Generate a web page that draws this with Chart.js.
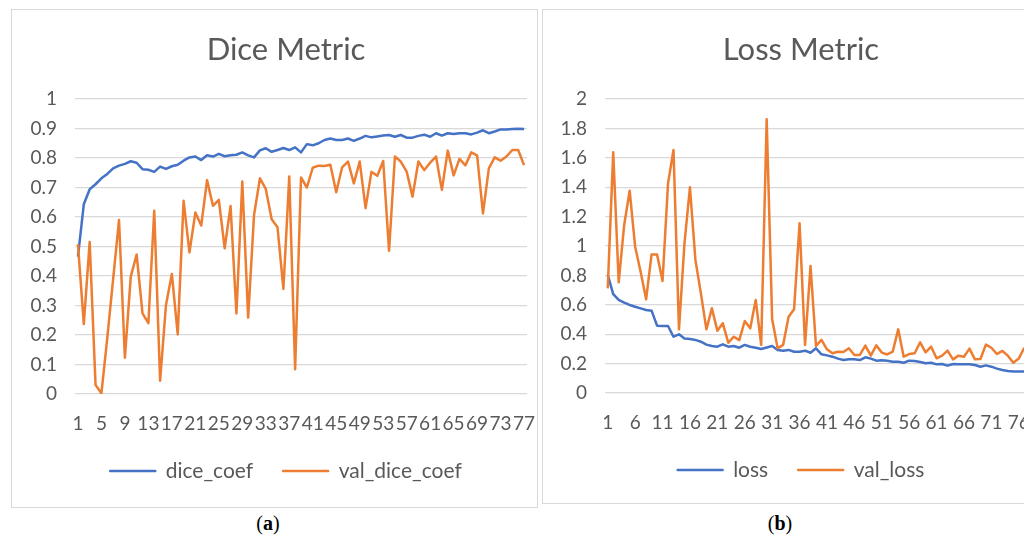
<!DOCTYPE html>
<html lang="en">
<head>
    <meta charset="UTF-8">
    <title>Dice Metric / Loss Metric</title>
    <script src="https://cdn.jsdelivr.net/npm/chart.js"></script>
    <style>
        html, body {
            margin: 0;
            padding: 0;
            background: #ffffff;
        }
        body {
            width: 1024px;
            height: 539px;
            overflow: hidden;
            position: relative;
            font-family: Lato, sans-serif;
        }
        .box {
            position: absolute;
            border: 1px solid #d9d9d9;
            box-sizing: border-box;
        }
        #boxA { left: 11px; top: 9px; width: 527px; height: 499px; }
        #boxB { left: 542px; top: 9px; width: 540px; height: 495px; }
        .wrap { position: absolute; }
        #wrapA { left: 12px; top: 10px; width: 548px; height: 496px; }
        #wrapB { left: 544px; top: 10px; width: 514px; height: 492px; }
        .caption {
            position: absolute;
            top: 512px;
            font-family: "Liberation Serif", serif;
            font-size: 20px;
            color: #000;
            transform: translateX(-50%);
        }
    </style>
</head>
<body>

    <div id="boxA" class="box"></div>
    <div id="boxB" class="box"></div>
    <div id="wrapA" class="wrap"><canvas id="diceChart"></canvas></div>
    <div id="wrapB" class="wrap"><canvas id="lossChart"></canvas></div>
    <div class="caption" style="left:268px">(<b>a</b>)</div>
    <div class="caption" style="left:780px">(<b>b</b>)</div>

    <script>
        // epochs 1..77
        const epochs = Array.from({ length: 77 }, (_, i) => String(i + 1));

        const diceCoef = [
            0.466, 0.643, 0.694, 0.711, 0.731, 0.746, 0.765, 0.774, 0.780, 0.789,
            0.784, 0.762, 0.760, 0.753, 0.771, 0.763, 0.772, 0.777, 0.791, 0.802,
            0.805, 0.793, 0.809, 0.805, 0.814, 0.806, 0.809, 0.811, 0.819, 0.809,
            0.802, 0.826, 0.833, 0.821, 0.827, 0.834, 0.827, 0.836, 0.819, 0.847,
            0.843, 0.850, 0.861, 0.866, 0.861, 0.861, 0.866, 0.858, 0.866, 0.875,
            0.870, 0.873, 0.876, 0.878, 0.872, 0.878, 0.869, 0.869, 0.875, 0.879,
            0.872, 0.884, 0.876, 0.884, 0.881, 0.884, 0.884, 0.880, 0.886, 0.894,
            0.884, 0.890, 0.897, 0.897, 0.898, 0.899, 0.898
        ];
        const valDiceCoef = [
            0.508, 0.237, 0.515, 0.031, 0.002, 0.190, 0.390, 0.590, 0.123, 0.398,
            0.473, 0.273, 0.240, 0.621, 0.045, 0.302, 0.407, 0.202, 0.655, 0.480,
            0.615, 0.571, 0.725, 0.638, 0.658, 0.494, 0.637, 0.273, 0.720, 0.259,
            0.607, 0.731, 0.695, 0.592, 0.565, 0.356, 0.737, 0.084, 0.734, 0.700,
            0.767, 0.774, 0.773, 0.777, 0.684, 0.768, 0.788, 0.714, 0.788, 0.630,
            0.753, 0.740, 0.790, 0.486, 0.805, 0.788, 0.754, 0.669, 0.788, 0.759,
            0.784, 0.805, 0.692, 0.825, 0.741, 0.797, 0.775, 0.819, 0.809, 0.612,
            0.765, 0.802, 0.791, 0.805, 0.827, 0.827, 0.776
        ];
        const loss = [
            0.803, 0.673, 0.633, 0.615, 0.599, 0.587, 0.576, 0.565, 0.560, 0.458,
            0.456, 0.456, 0.383, 0.399, 0.370, 0.367, 0.361, 0.349, 0.329, 0.320,
            0.315, 0.331, 0.315, 0.320, 0.308, 0.327, 0.315, 0.308, 0.299, 0.310,
            0.320, 0.293, 0.288, 0.293, 0.281, 0.281, 0.288, 0.274, 0.304, 0.263,
            0.256, 0.247, 0.234, 0.224, 0.229, 0.229, 0.224, 0.243, 0.234, 0.220,
            0.222, 0.220, 0.213, 0.213, 0.206, 0.220, 0.218, 0.211, 0.202, 0.206,
            0.195, 0.197, 0.186, 0.197, 0.195, 0.195, 0.195, 0.190, 0.179, 0.188,
            0.179, 0.166, 0.156, 0.150, 0.147, 0.147, 0.147
        ];
        const valLoss = [
            0.712, 1.637, 0.753, 1.143, 1.376, 0.995, 0.825, 0.637, 0.943, 0.943,
            0.762, 1.426, 1.653, 0.433, 1.018, 1.399, 0.905, 0.678, 0.433, 0.576,
            0.424, 0.474, 0.342, 0.383, 0.360, 0.490, 0.440, 0.633, 0.327, 1.862,
            0.501, 0.304, 0.327, 0.519, 0.569, 1.154, 0.327, 0.864, 0.320, 0.361,
            0.297, 0.270, 0.281, 0.279, 0.304, 0.259, 0.259, 0.322, 0.254, 0.324,
            0.275, 0.262, 0.281, 0.433, 0.247, 0.265, 0.270, 0.345, 0.277, 0.315,
            0.236, 0.254, 0.288, 0.229, 0.254, 0.247, 0.302, 0.229, 0.231, 0.329,
            0.308, 0.265, 0.286, 0.254, 0.206, 0.234, 0.308
        ];

        const BLUE = '#4472C4';
        const ORANGE = '#ED7D31';
        const TEXT = '#595959';
        const GRID = '#d9d9d9';

        function lineSet(label, data, color, order) {
            return {
                label: label,
                data: data,
                borderColor: color,
                backgroundColor: color,
                borderWidth: 2.5,
                pointRadius: 0,
                tension: 0,
                fill: false,
                borderJoinStyle: 'round',
                order: order
            };
        }

        // yW: width of the value axis, rightW: empty gap right of the plot
        // (keeps title and legend centred where the original has them)
        function makeChart(id, title, sets, yMax, yStep, labelEvery, yW, rightW, padBottom) {
            return new Chart(document.getElementById(id), {
                type: 'line',
                data: { labels: epochs, datasets: sets },
                options: {
                    responsive: true,
                    maintainAspectRatio: false,
                    animation: false,
                    layout: { padding: { left: 0, right: 0, top: 0, bottom: padBottom }, autoPadding: false },
                    plugins: {
                        tooltip: { enabled: false },
                        title: {
                            display: true,
                            text: title,
                            color: TEXT,
                            font: { family: 'Lato', size: 31, weight: 'normal' },
                            padding: { top: 21.4, bottom: 30.4 }
                        },
                        legend: {
                            position: 'bottom',
                            labels: {
                                boxWidth: 45,
                                boxHeight: 0,
                                padding: 30,
                                color: TEXT,
                                font: { family: 'Lato', size: 21 },
                                sort: (a, b) => a.datasetIndex - b.datasetIndex
                            }
                        }
                    },
                    scales: {
                        x: {
                            offset: true,
                            grid: { display: false, drawTicks: false },
                            border: { display: false },
                            ticks: {
                                autoSkip: false,
                                maxRotation: 0,
                                padding: 18,
                                color: TEXT,
                                font: { family: 'Lato', size: 19 },
                                callback: function (v, i) {
                                    return i % labelEvery === 0 ? this.getLabelForValue(v) : '';
                                }
                            },
                            afterFit: s => { s.height = 36.5; }
                        },
                        y: {
                            min: 0,
                            max: yMax,
                            grid: { color: GRID, lineWidth: 1.3, drawTicks: false },
                            border: { display: false },
                            ticks: {
                                stepSize: yStep,
                                padding: 18,
                                color: TEXT,
                                font: { family: 'Lato', size: 19 },
                                callback: v => String(Math.round(v * 10) / 10)
                            },
                            afterFit: s => { s.width = yW; }
                        },
                        gap: {
                            type: 'linear',
                            position: 'right',
                            display: true,
                            grid: { display: false, drawTicks: false },
                            border: { display: false },
                            ticks: { display: false },
                            afterFit: s => { s.width = rightW; }
                        }
                    }
                }
            });
        }

        makeChart('diceChart', 'Dice Metric', [
            lineSet('dice_coef', diceCoef, BLUE, 1),
            lineSet('val_dice_coef', valDiceCoef, ORANGE, 0)
        ], 1, 0.1, 4, 63, 33, 14.5);

        makeChart('lossChart', 'Loss Metric', [
            lineSet('loss', loss, BLUE, 1),
            lineSet('val_loss', valLoss, ORANGE, 0)
        ], 2, 0.2, 5, 61, 31, 11.5);
    </script>
</body>
</html>
